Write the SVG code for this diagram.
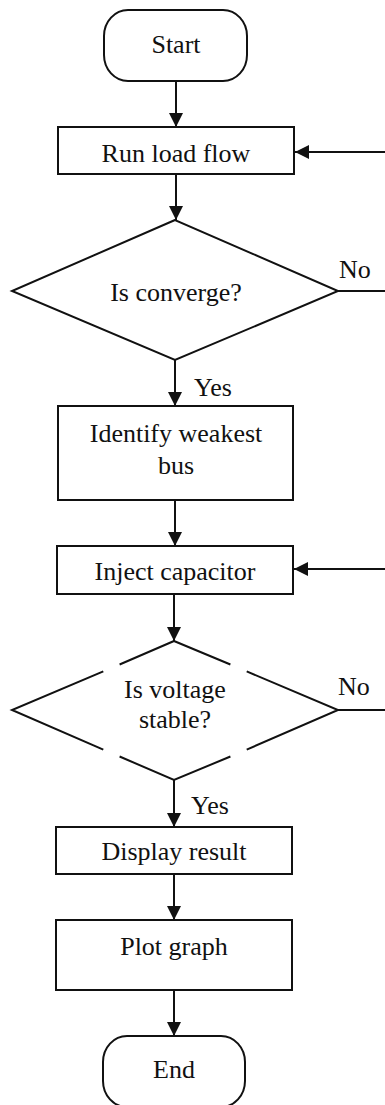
<svg xmlns="http://www.w3.org/2000/svg" width="385" height="1105" viewBox="0 0 385 1105">
<style>
.s{fill:#fff;stroke:#111;stroke-width:2}
.t{font-family:"Liberation Serif","Times New Roman",serif;font-size:26px;fill:#111;text-anchor:middle}
.l{font-family:"Liberation Serif","Times New Roman",serif;font-size:26px;fill:#111}
.c{fill:none;stroke:#111;stroke-width:2}
</style>
<defs>
<marker id="a" viewBox="0 0 14 14" refX="14" refY="7" markerWidth="14" markerHeight="14" markerUnits="userSpaceOnUse" orient="auto">
<path d="M0,0 L14,7 L0,14 Z" fill="#111"/>
</marker>
</defs>
<rect width="385" height="1105" fill="#fff"/>
<g id="connectors">
<line class="c" x1="176" y1="81" x2="176" y2="127" marker-end="url(#a)"/>
<line class="c" x1="385" y1="152" x2="295" y2="152" marker-end="url(#a)"/>
<line class="c" x1="176" y1="174" x2="176" y2="220" marker-end="url(#a)"/>
<line class="c" x1="338" y1="291" x2="385" y2="291"/>
<line class="c" x1="175" y1="360" x2="175" y2="406" marker-end="url(#a)"/>
<line class="c" x1="175" y1="500" x2="175" y2="546" marker-end="url(#a)"/>
<line class="c" x1="385" y1="569" x2="294" y2="569" marker-end="url(#a)"/>
<line class="c" x1="174" y1="594" x2="174" y2="641" marker-end="url(#a)"/>
<line class="c" x1="338" y1="710" x2="385" y2="710"/>
<line class="c" x1="174" y1="780" x2="174" y2="827" marker-end="url(#a)"/>
<line class="c" x1="174" y1="874" x2="174" y2="920" marker-end="url(#a)"/>
<line class="c" x1="174" y1="990" x2="174" y2="1036" marker-end="url(#a)"/>
<text class="l" x="339" y="278">No</text>
<text class="l" x="194" y="396">Yes</text>
<text class="l" x="338" y="695">No</text>
<text class="l" x="191" y="814">Yes</text>
</g>
<g id="start">
<rect class="s" x="104" y="10" width="143" height="71" rx="24" ry="26"/>
<text class="t" x="176" y="53">Start</text>
</g>
<g id="runloadflow">
<rect class="s" x="58" y="127" width="236" height="47"/>
<text class="t" x="176" y="162">Run load flow</text>
</g>
<g id="converge">
<polygon class="s" points="175,220 12,291 175,360 338,291"/>
<text class="t" x="176" y="301">Is converge?</text>
</g>
<g id="identify">
<rect class="s" x="58" y="406" width="235" height="94"/>
<text class="t" x="176" y="442">Identify weakest</text>
<text class="t" x="176" y="474">bus</text>
</g>
<g id="inject">
<rect class="s" x="57" y="546" width="236" height="48"/>
<text class="t" x="175" y="580">Inject capacitor</text>
</g>
<g id="voltage">
<path class="c" d="M174,641 L119.6,664.5 M103.3,671.4 L12,710 L103.3,749.6 M119.6,756.5 L174,780 L230.4,756.5 M246.7,749.6 L338,710 L246.7,671.4 M230.4,664.5 L174,641"/>
<text class="t" x="175" y="698">Is voltage</text>
<text class="t" x="175" y="728">stable?</text>
</g>
<g id="display">
<rect class="s" x="56" y="827" width="236" height="47"/>
<text class="t" x="174" y="860">Display result</text>
</g>
<g id="plot">
<rect class="s" x="56" y="920" width="236" height="70"/>
<text class="t" x="174" y="955">Plot graph</text>
</g>
<g id="end">
<rect class="s" x="103" y="1036" width="142" height="71" rx="24" ry="26"/>
<text class="t" x="174" y="1078">End</text>
</g>
</svg>
